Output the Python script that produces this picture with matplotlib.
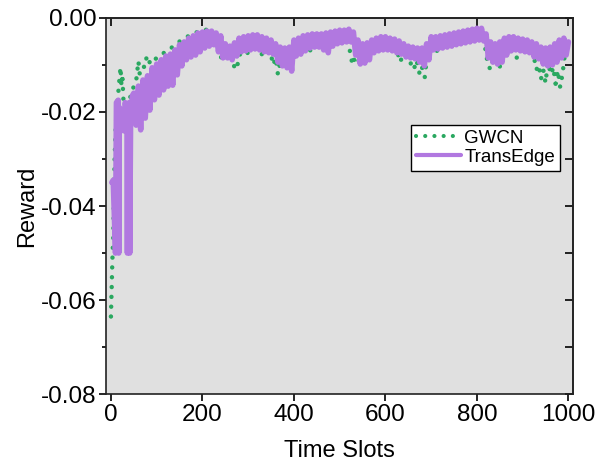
import matplotlib
matplotlib.use("Agg")
import matplotlib.pyplot as plt
from matplotlib.ticker import MultipleLocator, FormatStrFormatter

plt.rcParams['font.family'] = ['Liberation Sans', 'DejaVu Sans']
plt.rcParams['axes.unicode_minus'] = False

# GWCN reward (drawn as a dotted line)
gwcn_t = [0, 1, 2, 3, 4, 5, 6, 8, 10, 13, 16, 19, 21, 23, 25, 27, 30, 35, 40, 45,
          50, 55, 60, 63, 67, 72, 77, 82, 87, 92, 100, 110, 120, 130, 140, 150,
          160, 170, 180, 190, 200, 210, 220, 230, 235, 240, 245, 250, 260, 268,
          273, 278, 285, 295, 300, 305, 315, 325, 330, 335, 345, 355, 360, 365,
          370, 378, 390, 400, 410, 420, 430, 437, 445, 455, 465, 475, 485, 495,
          505, 515, 522, 528, 533, 540, 548, 560, 570, 580, 590, 600, 610, 620,
          633, 640, 650, 656, 662, 668, 675, 680, 686, 692, 700, 712, 720, 735,
          745, 760, 775, 790, 805, 815, 824, 830, 838, 850, 858, 870, 878, 886,
          894, 905, 915, 925, 930, 935, 940, 945, 950, 955, 962, 967, 972, 977,
          982, 987, 992, 997, 1000]
gwcn_reward = [-0.0635, -0.060, -0.056, -0.052, -0.049, -0.047, -0.040, -0.030,
               -0.024, -0.019, -0.016, -0.0125, -0.0105, -0.0145, -0.012, -0.017,
               -0.020, -0.019, -0.0175, -0.016, -0.0145, -0.0135, -0.0092, -0.012,
               -0.011, -0.0105, -0.0085, -0.0100, -0.0088, -0.0092, -0.0085,
               -0.0080, -0.0070, -0.0065, -0.0058, -0.0050, -0.0045, -0.0038,
               -0.0032, -0.0030, -0.0026, -0.0025, -0.0026, -0.0035, -0.0070,
               -0.0088, -0.0060, -0.0055, -0.0065, -0.0100, -0.0110, -0.0095,
               -0.0065, -0.0058, -0.0080, -0.0050, -0.0045, -0.0055, -0.0078,
               -0.0055, -0.0060, -0.0100, -0.0085, -0.0120, -0.0095, -0.0070,
               -0.0090, -0.0055, -0.0050, -0.0045, -0.0048, -0.0074, -0.0045,
               -0.0042, -0.0060, -0.0040, -0.0038, -0.0035, -0.0032, -0.0032,
               -0.0068, -0.0100, -0.0085, -0.0095, -0.0070, -0.0065, -0.0055,
               -0.0050, -0.0048, -0.0048, -0.0050, -0.0055, -0.0094, -0.0065,
               -0.0070, -0.0100, -0.0110, -0.0090, -0.0120, -0.0105, -0.0126,
               -0.0070, -0.0050, -0.0072, -0.0048, -0.0045, -0.0047, -0.0040,
               -0.0037, -0.0034, -0.0032, -0.0045, -0.0100, -0.0110, -0.0080,
               -0.0104, -0.0065, -0.0060, -0.0080, -0.0085, -0.0080, -0.0065,
               -0.0068, -0.0085, -0.0110, -0.0100, -0.0130, -0.0110, -0.0138,
               -0.0095, -0.0120, -0.0105, -0.0140, -0.0112, -0.0147, -0.0120,
               -0.0080, -0.0050, -0.0060]

# TransEdge reward: the noisy start (two swings down to
# -0.05), then the upper edge of the band at every tenth slot and the lower
# edge five slots later
trans_t = [2, 5, 10, 12, 16, 17, 18, 23, 28, 31, 35, 36, 37, 40, 41, 43, 47,
           50, 55, 60, 65, 70, 75, 80, 85, 90, 95, 100, 105, 110, 115, 120, 125,
           130, 135, 140, 145, 150, 155, 160, 165, 170, 175, 180, 185, 190, 195,
           200, 205, 210, 215, 220, 225, 230, 235, 240, 245, 250, 255, 260, 265,
           270, 275, 280, 285, 290, 295, 300, 305, 310, 315, 320, 325, 330, 335,
           340, 345, 350, 355, 360, 365, 370, 375, 380, 385, 390, 395, 400, 405,
           410, 415, 420, 425, 430, 435, 440, 445, 450, 455, 460, 465, 470, 475,
           480, 485, 490, 495, 500, 505, 510, 515, 520, 525, 530, 535, 540, 545,
           550, 555, 560, 565, 570, 575, 580, 585, 590, 595, 600, 605, 610, 615,
           620, 625, 630, 635, 640, 645, 650, 655, 660, 665, 670, 675, 680, 685,
           690, 695, 700, 705, 710, 715, 720, 725, 730, 735, 740, 745, 750, 755,
           760, 765, 770, 775, 780, 785, 790, 795, 800, 805, 810, 815, 820, 825,
           830, 835, 840, 845, 850, 855, 860, 865, 870, 875, 880, 885, 890, 895,
           900, 905, 910, 915, 920, 925, 930, 935, 940, 945, 950, 955, 960, 965,
           970, 975, 980, 985, 990, 995, 1000]
trans_reward = [-0.0350, -0.0345, -0.0500, -0.0180, -0.0175, -0.0500, -0.0190,
                -0.0200, -0.0240, -0.0180, -0.0190, -0.0500, -0.0190, -0.0180,
                -0.0500, -0.0210, -0.0165,
                -0.0160, -0.0228, -0.0145, -0.0238, -0.0132, -0.0213,  # 50-75
                -0.0123, -0.0196, -0.0106, -0.0174, -0.0098, -0.0164,  # 80-105
                -0.0089, -0.0153, -0.0081, -0.0145, -0.0077, -0.0143,  # 110-135
                -0.0068, -0.0121, -0.0057, -0.0102, -0.0051, -0.0089,  # 140-165
                -0.0043, -0.0083, -0.0038, -0.0079, -0.0032, -0.0072,  # 170-195
                -0.0030, -0.0064, -0.0028, -0.0060, -0.0028, -0.0057,  # 200-225
                -0.0032, -0.0072, -0.0038, -0.0085, -0.0055, -0.0085,  # 230-255
                -0.0060, -0.0089, -0.0053, -0.0081, -0.0043, -0.0072,  # 260-285
                -0.0040, -0.0070, -0.0038, -0.0068, -0.0036, -0.0066,  # 290-315
                -0.0036, -0.0068, -0.0040, -0.0072, -0.0043, -0.0074,  # 320-345
                -0.0047, -0.0077, -0.0055, -0.0094, -0.0062, -0.0102,  # 350-375
                -0.0064, -0.0106, -0.0062, -0.0113, -0.0047, -0.0081,  # 380-405
                -0.0043, -0.0077, -0.0038, -0.0070, -0.0036, -0.0064,  # 410-435
                -0.0034, -0.0062, -0.0034, -0.0062, -0.0034, -0.0068,  # 440-465
                -0.0032, -0.0074, -0.0030, -0.0060, -0.0028, -0.0055,  # 470-495
                -0.0026, -0.0053, -0.0026, -0.0051, -0.0024, -0.0051,  # 500-525
                -0.0030, -0.0079, -0.0047, -0.0098, -0.0055, -0.0096,  # 530-555
                -0.0053, -0.0089, -0.0047, -0.0074, -0.0043, -0.0070,  # 560-585
                -0.0040, -0.0068, -0.0040, -0.0068, -0.0043, -0.0070,  # 590-615
                -0.0045, -0.0074, -0.0049, -0.0077, -0.0055, -0.0083,  # 620-645
                -0.0060, -0.0085, -0.0062, -0.0087, -0.0064, -0.0094,  # 650-675
                -0.0064, -0.0102, -0.0055, -0.0089, -0.0040, -0.0068,  # 680-705
                -0.0040, -0.0066, -0.0038, -0.0064, -0.0036, -0.0062,  # 710-735
                -0.0034, -0.0060, -0.0032, -0.0057, -0.0030, -0.0055,  # 740-765
                -0.0028, -0.0053, -0.0026, -0.0051, -0.0024, -0.0049,  # 770-795
                -0.0022, -0.0047, -0.0022, -0.0049, -0.0034, -0.0085,  # 800-825
                -0.0051, -0.0094, -0.0055, -0.0098, -0.0051, -0.0094,  # 830-855
                -0.0043, -0.0079, -0.0040, -0.0070, -0.0040, -0.0068,  # 860-885
                -0.0043, -0.0070, -0.0045, -0.0072, -0.0047, -0.0074,  # 890-915
                -0.0051, -0.0083, -0.0055, -0.0087, -0.0062, -0.0098,  # 920-945
                -0.0064, -0.0102, -0.0062, -0.0100, -0.0055, -0.0094,  # 950-975
                -0.0047, -0.0085, -0.0043, -0.0079, -0.0051]           # 980-1000

fig = plt.figure(figsize=(5.95, 4.72), dpi=100)
ax = fig.add_axes([0.178, 0.165, 0.785, 0.797])
ax.set_facecolor('#e0e0e0')

ax.plot(gwcn_t, gwcn_reward, color='#2aa860', lw=3.2,
        linestyle=(0, (0.01, 2.2)), dash_capstyle='round', label='GWCN', zorder=2)
ax.plot(trans_t, trans_reward, color='#b178e0', lw=4.0,
        solid_joinstyle='round', solid_capstyle='round', label='TransEdge', zorder=3)

ax.set_xlim(-11, 1010)
ax.set_ylim(-0.08, 0.0)
ax.xaxis.set_major_locator(MultipleLocator(200))
ax.yaxis.set_major_locator(MultipleLocator(0.02))
ax.yaxis.set_minor_locator(MultipleLocator(0.01))
ax.yaxis.set_major_formatter(FormatStrFormatter('%.2f'))

ax.tick_params(axis='both', which='major', direction='out', length=5, width=1.2,
               labelsize=17.5, pad=2)
ax.tick_params(axis='y', which='minor', direction='out', length=3, width=1.2)

# inward ticks on the top and right frames
top = ax.secondary_xaxis('top')
top.xaxis.set_major_locator(MultipleLocator(200))
top.tick_params(direction='in', length=6, width=1.2, labeltop=False)
right = ax.secondary_yaxis('right')
right.yaxis.set_major_locator(MultipleLocator(0.01))
right.tick_params(direction='in', length=6, width=1.2, labelright=False)

for sp in list(ax.spines.values()) + [top.spines['top'], right.spines['right']]:
    sp.set_linewidth(1.2)
    sp.set_color('#222222')

ax.set_xlabel('Time Slots', fontsize=17, labelpad=10)
ax.set_ylabel('Reward', fontsize=17, labelpad=2)

leg = ax.legend(loc='upper right', bbox_to_anchor=(0.972, 0.715), fontsize=13.5,
                frameon=True, fancybox=False, framealpha=1, edgecolor='black',
                handlelength=2.4, handletextpad=0.2, borderpad=0.25,
                labelspacing=0.1, borderaxespad=0)
leg.get_frame().set_linewidth(1.0)
for h in leg.get_lines():
    h.set_linewidth(3.0)

fig.savefig('out.png', dpi=100)
